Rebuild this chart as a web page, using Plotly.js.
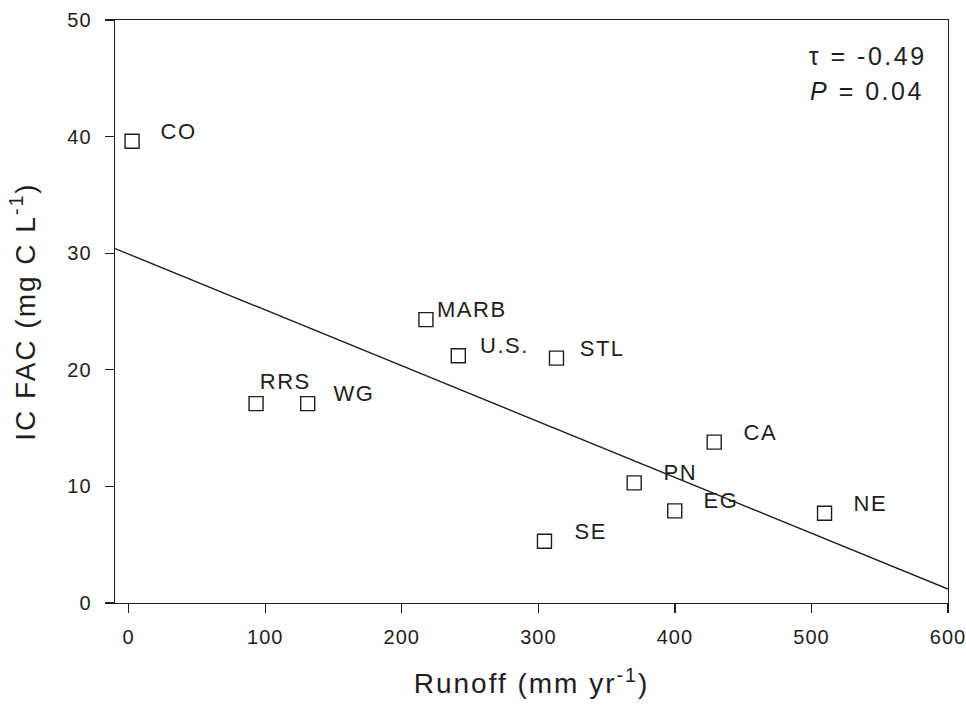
<!DOCTYPE html>
<html>
<head>
<meta charset="utf-8">
<script src="https://cdn.plot.ly/plotly-3.0.1.min.js"></script>
<style>
  html, body { margin: 0; padding: 0; background: #fff; }
  #chart { width: 966px; height: 705px; }
  #chart .xtick text, #chart .ytick text { letter-spacing: 1px; }
  #chart .annotation-text { letter-spacing: 1.5px; }
  #chart .annotation[data-index="11"] .annotation-text,
  #chart .annotation[data-index="12"] .annotation-text { letter-spacing: 2.5px; }
  #chart .xtitle, #chart .ytitle { letter-spacing: 2px; }
</style>
</head>
<body>
<div id="chart"></div>
<script>
// ---- Data ----
const sites  = ['CO', 'RRS', 'WG', 'MARB', 'U.S.', 'STL', 'CA', 'PN', 'EG', 'SE', 'NE'];
const runoff = [2.5, 93.3, 131.1, 217.7, 241.4, 313.3, 428.8, 370.2, 399.9, 304.5, 509.6];
const icFac  = [39.6, 17.1, 17.1, 24.3, 21.2, 21.0, 13.8, 10.3, 7.9, 5.3, 7.7];

// regression line end points
const fitX = [-10, 600];
const fitY = [30.4, 1.2];

// statistics
const statTau = 'τ = -0.49';
const statP   = '<i>P</i> = 0.04';

const xTicks = [0, 100, 200, 300, 400, 500, 600];
const yTicks = [0, 10, 20, 30, 40, 50];

// ---- Styling ----
const FONT = 'Liberation Sans, Arial, Helvetica, sans-serif';
const INK = '#1e1e1e';

// label placement (pixel shifts from marker)
function labelShift(name) {
  if (name === 'RRS') return [29, 22];
  return [46, 10];
}

const traces = [
  {
    x: fitX, y: fitY, type: 'scatter', mode: 'lines',
    line: { color: INK, width: 1.4 }, hoverinfo: 'skip', showlegend: false
  },
  {
    x: runoff, y: icFac, type: 'scatter', mode: 'markers',
    marker: { symbol: 'square-open', size: 14, color: INK, line: { width: 1.4, color: INK } },
    showlegend: false
  }
];

const annotations = sites.map((s, i) => {
  const sh = labelShift(s);
  return {
    x: runoff[i], y: icFac[i], xref: 'x', yref: 'y', text: s,
    showarrow: false, xanchor: 'center', yanchor: 'middle',
    xshift: sh[0], yshift: sh[1],
    font: { family: FONT, size: 22, color: INK }
  };
});

annotations.push({
  x: 0.844, y: 0.9386, xref: 'paper', yref: 'paper', text: statTau,
  showarrow: false, xanchor: 'left', yanchor: 'middle',
  font: { family: FONT, size: 25, color: INK }
});
annotations.push({
  x: 0.844, y: 0.878, xref: 'paper', yref: 'paper', text: statP,
  showarrow: false, xanchor: 'left', yanchor: 'middle',
  font: { family: FONT, size: 25, color: INK }
});

const axisCommon = {
  showline: true, linecolor: INK, linewidth: 1.4, mirror: true,
  ticks: 'outside', ticklen: 9, tickwidth: 1.4, tickcolor: INK,
  showgrid: false, zeroline: false,
  tickfont: { family: FONT, size: 20, color: INK }
};

const layout = {
  width: 966, height: 705,
  margin: { l: 115, r: 18, t: 20, b: 102 },
  paper_bgcolor: '#fff', plot_bgcolor: '#fff',
  showlegend: false,
  xaxis: Object.assign({}, axisCommon, {
    range: [-10, 600], tickvals: xTicks, ticktext: xTicks.map(String),
    ticklabelstandoff: 7,
    title: { text: 'Runoff (mm yr<sup>-1</sup>)', font: { family: FONT, size: 28, color: INK }, standoff: 26 }
  }),
  yaxis: Object.assign({}, axisCommon, {
    range: [0, 50], tickvals: yTicks, ticktext: yTicks.map(String),
    ticklabelstandoff: 9,
    title: { text: 'IC FAC (mg C L<sup>-1</sup>)', font: { family: FONT, size: 28, color: INK }, standoff: 25 }
  }),
  annotations: annotations
};

Plotly.newPlot('chart', traces, layout, { displayModeBar: false, staticPlot: true });
</script>
</body>
</html>
